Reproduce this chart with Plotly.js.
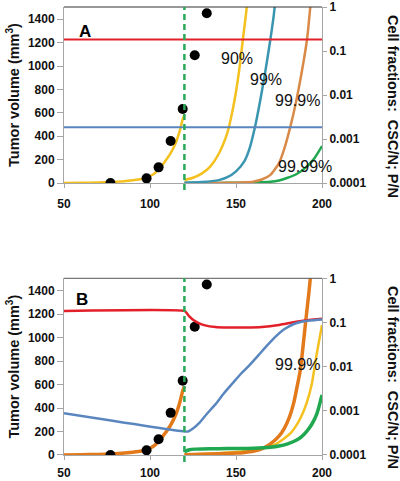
<!DOCTYPE html>
<html>
<head>
<meta charset="utf-8">
<script src="https://cdn.plot.ly/plotly-3.0.1.min.js"></script>
<style>html,body{margin:0;padding:0;background:#fff;}#chart{width:400px;height:481px;}</style>
</head>
<body>
<div id="chart"></div>
<script>
// ---------- data ----------
const xTicks = [50, 100, 150, 200];
const leftTicks = [0, 200, 400, 600, 800, 1000, 1200, 1400];
const rightTickVals = [0.0001, 0.001, 0.01, 0.1, 1];
const rightTickText = ['0.0001', '0.001', '0.01', '0.1', '1'];
const treatDay = 120;

// observed tumor volumes (both panels)
const obsX = [77, 98, 105, 112, 119, 126, 133];
const obsY = [0, 40, 134, 359, 633, 1092, 1452];

// pre-treatment tumor growth (both panels)
const preX = [50, 60, 70, 77, 85, 90, 95, 98, 102, 105, 108, 112, 115, 117, 119, 120];
const preY = [0, 2, 5, 9, 16, 24, 34, 46, 75, 115, 170, 255, 345, 430, 545, 585];

// Panel A: regrowth after kill fractions
const a90X = [120, 125, 130, 135, 140, 145, 148, 150, 152, 154, 156, 157.5];
const a90Y = [26, 45, 80, 140, 250, 430, 620, 780, 980, 1229, 1470, 1700];
const a99X = [120, 130, 140, 145, 150, 155, 158, 161, 164, 167, 170, 172, 173.5];
const a99Y = [3, 8, 25, 50, 100, 190, 300, 476, 700, 950, 1229, 1440, 1650];
const a999X = [120, 140, 150, 155, 160, 165, 170, 175, 178, 181.5, 185, 188, 191.3, 193.2, 194.5];
const a999Y = [0, 1, 3, 6, 12, 30, 70, 170, 290, 476, 700, 930, 1229, 1505, 1700];
const a9999X = [120, 140, 150, 160, 170, 175, 180, 185, 190, 195, 200];
const a9999Y = [0, 1, 2, 5, 11, 22, 45, 75, 125, 200, 316];
// Panel A cell fractions (right axis)
const aFracX = [50, 200];
const aRed = [0.183, 0.183];
const aBlue = [0.00185, 0.00185];

// Panel B: regrowth curves
const bOrangeX = [120, 130, 140, 150, 155, 160, 165, 170, 175, 178, 181, 183.5, 185.5, 187.4, 190.5, 192.5, 194.5];
const bOrangeY = [3, 6, 10, 16, 22, 32, 52, 95, 160, 225, 320, 440, 580, 724, 1135, 1400, 1700];
const bYellowX = [120, 130, 140, 150, 160, 165, 170, 174, 178, 182, 185, 188, 191, 194, 197, 200];
const bYellowY = [3, 8, 15, 25, 40, 55, 75, 100, 140, 190, 250, 330, 440, 600, 866, 1107];
const bGreenX = [120, 121, 123, 126, 130, 140, 150, 160, 170, 175, 180, 185, 188, 191, 194, 197, 200];
const bGreenY = [25, 35, 45, 50, 52, 54, 55, 58, 66, 76, 95, 125, 155, 200, 260, 350, 511];
// Panel B cell fractions (right axis)
const bRedX = [50, 120, 121, 123, 125, 128, 132, 138, 145, 155, 165, 175, 185, 195, 200];
const bRedY = [0.183, 0.183, 0.17, 0.135, 0.115, 0.098, 0.086, 0.079, 0.077, 0.077, 0.079, 0.088, 0.104, 0.117, 0.121];
const bBlueX = [50, 120, 122, 125, 129, 133, 138, 143, 148, 153, 158, 163, 168, 173, 178, 183, 188, 193, 200];
const bBlueY = [0.00088, 0.00034, 0.00034, 0.00040, 0.00055, 0.00085, 0.0014, 0.0025, 0.0042, 0.0070, 0.011, 0.018, 0.030, 0.048, 0.070, 0.090, 0.104, 0.111, 0.117];

// ---------- styles ----------
const RED = '#e3202a', BLUE = '#5a86bf', YEL = '#f4c01e', TEAL = '#3a96b0',
      ORA = '#d98a48', GRN = '#1fa84f', ORB = '#e27a1c', DGRN = '#2aa85a';
const FONT = 'Arial, "Liberation Sans", Helvetica, sans-serif';

function ln(x, y, color, w, xa, ya) {
  return {x: x, y: y, type: 'scatter', mode: 'lines', xaxis: xa, yaxis: ya,
          line: {color: color, width: w, shape: 'spline', smoothing: 0.6}, hoverinfo: 'skip'};
}
function dots(xa, ya) {
  return {x: obsX, y: obsY, type: 'scatter', mode: 'markers', xaxis: xa, yaxis: ya,
          marker: {color: '#000', size: 10}, hoverinfo: 'skip'};
}

const traces = [
  // Panel A
  ln(preX, preY, YEL, 2.5, 'x', 'y'),
  ln(a9999X, a9999Y, GRN, 2.5, 'x', 'y'),
  ln(a999X, a999Y, ORA, 2.5, 'x', 'y'),
  ln(a99X, a99Y, TEAL, 2.5, 'x', 'y'),
  ln(a90X, a90Y, YEL, 2.5, 'x', 'y'),
  dots('x', 'y'),
  ln(aFracX, aRed, RED, 2, 'x', 'y2'),
  ln(aFracX, aBlue, BLUE, 2, 'x', 'y2'),
  // Panel B
  ln(preX, preY, ORB, 3.5, 'x2', 'y3'),
  ln(bYellowX, bYellowY, YEL, 2.5, 'x2', 'y3'),
  ln(bOrangeX, bOrangeY, ORB, 3.5, 'x2', 'y3'),
  ln(bGreenX, bGreenY, GRN, 3.5, 'x2', 'y3'),
  dots('x2', 'y3'),
  ln(bRedX, bRedY, RED, 2.5, 'x2', 'y4'),
  ln(bBlueX, bBlueY, BLUE, 2.5, 'x2', 'y4')
];

const AX = '#a6a6a6';
const tickFont = {family: FONT, size: 12, weight: 700, color: '#111'};
function xax(anchor, standoff) {
  return {anchor: anchor, domain: [0, 1], range: [50, 200], tickvals: xTicks,
          showline: true, linecolor: AX, linewidth: 1, ticks: 'outside', ticklen: 4,
          tickcolor: AX, showgrid: false, zeroline: false, tickfont: tickFont,
          ticklabelstandoff: standoff, fixedrange: true};
}
function yleft(anchor, dom) {
  return {anchor: anchor, domain: dom, range: [0, 1505], tickvals: leftTicks,
          showline: true, linecolor: AX, linewidth: 1, ticks: 'outside', ticklen: 6,
          tickcolor: AX, showgrid: false, zeroline: false, tickfont: tickFont,
          title: {text: 'Tumor volume (mm<sup>3</sup>)', font: {family: FONT, size: 14.5, weight: 700, color: '#111'}, standoff: 4}};
}
function yright(anchor, over) {
  return {anchor: anchor, overlaying: over, side: 'right', type: 'log', range: [-4, 0],
          tickvals: rightTickVals, ticktext: rightTickText,
          showline: true, linecolor: AX, linewidth: 1, ticks: 'outside', ticklen: 4,
          tickcolor: AX, showgrid: false, zeroline: false, tickfont: tickFont};
}

const annFont = {family: FONT, size: 16, color: '#111'};
const titleFont = {family: FONT, size: 14.5, weight: 700, color: '#111'};
const layout = {
  width: 400, height: 481,
  margin: {l: 64, r: 78, t: 7, b: 26},
  paper_bgcolor: '#fff', plot_bgcolor: '#fff',
  showlegend: false,
  font: {family: FONT, color: '#111'},
  xaxis: xax('y', 6),
  yaxis: yleft('x', [0.6071, 1]),
  yaxis2: yright('x', 'y'),
  xaxis2: xax('y3', 3),
  yaxis3: yleft('x2', [0, 0.3944]),
  yaxis4: yright('x2', 'y3'),
  shapes: [
    {type: 'line', xref: 'x domain', yref: 'y domain', x0: 0, x1: 1, y0: 1, y1: 1, line: {color: '#333', width: 1}},
    {type: 'line', xref: 'x2 domain', yref: 'y3 domain', x0: 0, x1: 1, y0: 1, y1: 1, line: {color: '#555', width: 1}},
    {type: 'line', xref: 'x', yref: 'y domain', x0: treatDay, x1: treatDay, y0: -0.04, y1: 1, layer: 'above', line: {color: DGRN, width: 2.5, dash: '6px,4px'}},
    {type: 'line', xref: 'x2', yref: 'y3 domain', x0: treatDay, x1: treatDay, y0: -0.04, y1: 1, layer: 'above', line: {color: DGRN, width: 2.5, dash: '6px,4px'}}
  ],
  annotations: [
    {text: 'A', xref: 'x', yref: 'y', x: 62.2, y: 1294, showarrow: false, font: {family: FONT, size: 17, weight: 700, color: '#000'}},
    {text: 'B', xref: 'x2', yref: 'y3', x: 60.3, y: 1326, showarrow: false, font: {family: FONT, size: 17, weight: 700, color: '#000'}},
    {text: '90%', xref: 'x', yref: 'y', x: 150.5, y: 1067, showarrow: false, font: annFont},
    {text: '99%', xref: 'x', yref: 'y', x: 167.4, y: 887, showarrow: false, font: annFont},
    {text: '99.9%', xref: 'x', yref: 'y', x: 185.8, y: 704, showarrow: false, font: annFont},
    {text: '99.99%', xref: 'x', yref: 'y', x: 190.3, y: 139, showarrow: false, font: annFont},
    {text: '99.9%', xref: 'x2', yref: 'y3', x: 185.5, y: 767, showarrow: false, font: annFont},
    {text: 'Cell fractions:  CSC/N; P/N', xref: 'paper', yref: 'paper', x: 1.275, y: 0.7768, xanchor: 'center', yanchor: 'middle', textangle: 90, showarrow: false, font: titleFont},
    {text: 'Cell fractions:  CSC/N; P/N', xref: 'paper', yref: 'paper', x: 1.275, y: 0.1719, xanchor: 'center', yanchor: 'middle', textangle: 90, showarrow: false, font: titleFont}
  ]
};

Plotly.newPlot('chart', traces, layout, {displayModeBar: false, staticPlot: true});
</script>
</body>
</html>
